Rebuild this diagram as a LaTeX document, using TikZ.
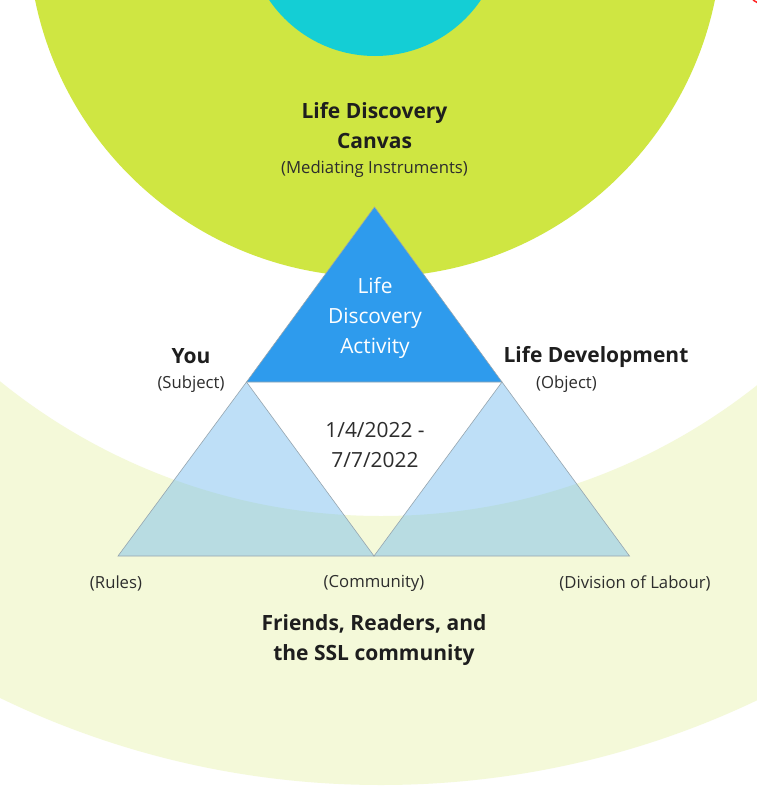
\documentclass[tikz,border=0pt]{standalone}
\usepackage{fontspec}
\setmainfont{Open Sans}
\definecolor{ringgreen}{RGB}{244,249,217}
\definecolor{limegreen}{RGB}{207,230,66}
\definecolor{cyanc}{RGB}{20,206,213}
\definecolor{bluec}{RGB}{46,155,237}
\definecolor{lightblue}{RGB}{111,186,239}
\definecolor{edgegray}{RGB}{150,165,175}
\definecolor{txt}{RGB}{30,30,30}
\definecolor{txtr}{RGB}{45,45,45}
\tikzset{
  triedge/.style={draw=edgegray, line width=0.6pt, line join=miter},
  boldlbl/.style={text=txt, align=center, inner sep=0pt, font=\fontsize{21}{30}\selectfont\bfseries},
  smalllbl/.style={text=txtr, align=center, inner sep=0pt, font=\fontsize{16.7}{20}\selectfont},
  midlbl/.style={text=txtr, align=center, inner sep=0pt, font=\fontsize{20.9}{30}\selectfont},
}
\begin{document}
\begin{tikzpicture}[x=1pt,y=-1pt]
\useasboundingbox (0,0) rectangle (757,803);
\begin{scope}
\clip (0,0) rectangle (757,803);
\fill[white] (0,0) rectangle (757,803);
\fill[ringgreen, even odd rule] (381,-90) circle (875) (381,-90) circle (606);
\fill[limegreen] (375,-70) circle (347);
\fill[cyanc] (375,-72) circle (128);
\coordinate (r1) at (753,0);
\coordinate (r2) at (758,3);
\draw[red!85!white, line width=1.5pt] (r1) -- (r2);
\end{scope}
% triangle vertices
\coordinate (apex) at (374.5,207);
\coordinate (bl) at (246.5,382);
\coordinate (br) at (502,382);
\coordinate (ll) at (118,556);
\coordinate (mm) at (374,556);
\coordinate (rr) at (629.5,556);
\fill[bluec] (apex) -- (br) -- (bl) -- cycle;
\draw[triedge] (apex) -- (br) -- (bl) -- cycle;
\fill[lightblue, fill opacity=0.45] (bl) -- (mm) -- (ll) -- cycle;
\draw[triedge] (bl) -- (mm) -- (ll) -- cycle;
\fill[lightblue, fill opacity=0.45] (br) -- (rr) -- (mm) -- cycle;
\draw[triedge] (br) -- (rr) -- (mm) -- cycle;
% texts
\node[boldlbl] (canvas) at (374.5,126) {Life Discovery\\Canvas};
\node[smalllbl] (mediating) at (374.5,169) {(Mediating Instruments)};
\node[midlbl, text=white] (activity) at (375,318) {Life\\Discovery\\Activity};
\node[boldlbl] (you) at (191,356.5) {You};
\node[smalllbl] (subject) at (191,384) {(Subject)};
\node[boldlbl] (lifedev) at (596,356.5) {Life Development};
\node[smalllbl] (object) at (566.5,384) {(Object)};
\node[midlbl] (dates) at (375,445) {1/4/2022 -\\7/7/2022};
\node[smalllbl] (rules) at (116,583) {(Rules)};
\node[smalllbl] (community) at (374,583) {(Community)};
\node[smalllbl] (division) at (635,583) {(Division of Labour)};
\node[boldlbl] (friends) at (374,640.5) {Friends, Readers, and\\the SSL community};
\end{tikzpicture}
\end{document}
